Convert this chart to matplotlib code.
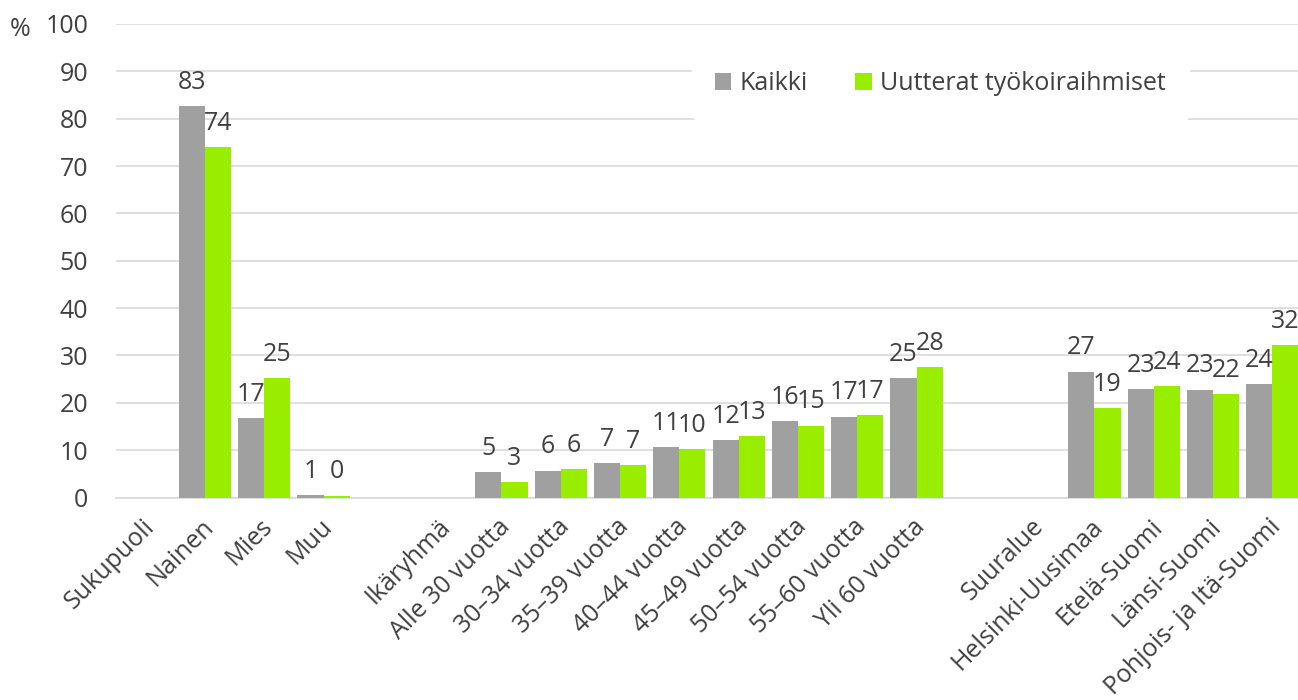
import matplotlib
matplotlib.use("Agg")
import matplotlib.pyplot as plt
import matplotlib.transforms as mtransforms
import numpy as np

categories = ["Sukupuoli", "Nainen", "Mies", "Muu", "", "Ikäryhmä", "Alle 30 vuotta",
              "30–34 vuotta", "35–39 vuotta", "40–44 vuotta", "45–49 vuotta",
              "50–54 vuotta", "55–60 vuotta", "Yli 60 vuotta", "", "Suuralue",
              "Helsinki-Uusimaa", "Etelä-Suomi", "Länsi-Suomi", "Pohjois- ja Itä-Suomi"]
kaikki = [None, 82.6, 16.8, 0.6, None, None, 5.3, 5.7, 7.2, 10.6, 12.1, 16.2, 17.1, 25.3,
          None, None, 26.6, 22.9, 22.8, 24.0]
uutterat = [None, 74.0, 25.2, 0.4, None, None, 3.2, 6.0, 6.8, 10.2, 13.0, 15.2, 17.4, 27.6,
            None, None, 18.8, 23.5, 21.8, 32.2]
series_names = ["Kaikki", "Uutterat työkoiraihmiset"]
yticks = list(range(0, 101, 10))

plt.rcParams['font.family'] = ['Open Sans', 'DejaVu Sans']
fig = plt.figure(figsize=(12.98, 7.0), dpi=100)
ax = fig.add_axes([116/1298, 202.5/700, (1298-116)/1298, (497.5-24)/700])

gray = "#A0A0A0"
green = "#99EE00"
txt = "#404040"
fs = 18
w = 0.44
x = np.arange(len(categories))
for vals, off, col, name in [(kaikki, -w/2, gray, series_names[0]), (uutterat, w/2, green, series_names[1])]:
    xs = [xi + off for xi, v in zip(x, vals) if v is not None]
    vs = [v for v in vals if v is not None]
    ax.bar(xs, vs, width=w, color=col, label=name, zorder=3)
    for xi, v in zip(xs, vs):
        ax.annotate(f"{v:.0f}", (xi, v), xytext=(0, 8), textcoords="offset points",
                    ha="center", va="bottom", fontsize=fs, color=txt, zorder=4)

ax.set_xlim(-0.5, 19.5 - 4/59.3)
ax.set_ylim(0, 100)
ax.set_yticks(yticks)
ax.set_yticklabels([str(t) for t in yticks], fontsize=fs, color=txt)
ax.yaxis.grid(True, color="#D9D9D9", linewidth=1.2, zorder=0)
ax.set_axisbelow(True)
for s in ["top", "right", "left"]:
    ax.spines[s].set_visible(False)
ax.spines["bottom"].set_color("#D9D9D9")
ax.spines["bottom"].set_linewidth(1.2)
ax.tick_params(axis="y", length=0, pad=20)
ax.tick_params(axis="x", length=0, pad=12)
ax.set_xticks(x)
ax.set_xticklabels(categories, rotation=45, ha="right", va="top", rotation_mode="anchor",
                   fontsize=fs, color=txt)
for lbl in ax.get_xticklabels():
    lbl.set_transform(lbl.get_transform() + mtransforms.ScaledTranslation(-4/100, 0, fig.dpi_scale_trans))

fig.text(10/1298, 1 - 30/700, "%", fontsize=fs, color=txt, va="center", ha="left")

leg = fig.legend(loc="center left", bbox_to_anchor=(692/1298, 1 - 84/700), ncol=2, frameon=True,
                 fontsize=fs, handlelength=0.65, handleheight=0.65, handletextpad=0.35,
                 columnspacing=1.9, borderpad=0.9, borderaxespad=0)
leg.get_frame().set_facecolor("white")
leg.get_frame().set_edgecolor("white")
leg.get_frame().set_alpha(1)
leg.set_zorder(5)
for t in leg.get_texts():
    t.set_color(txt)

fig.savefig("out.png", dpi=100)
